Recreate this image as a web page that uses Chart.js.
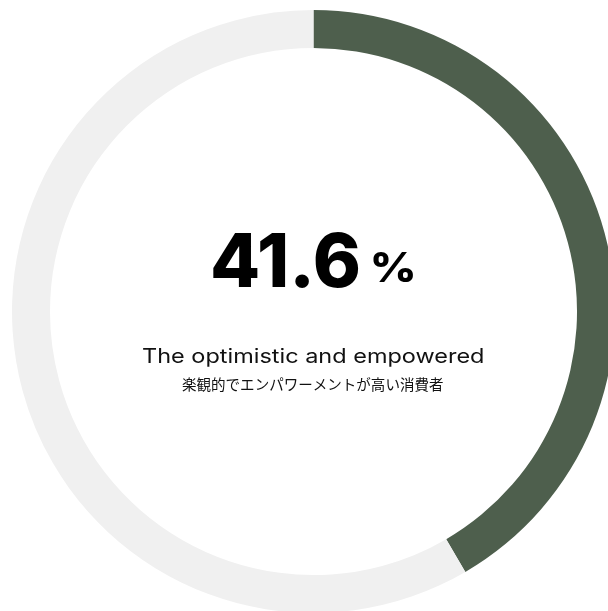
<!DOCTYPE html>
<html>
<head>
<meta charset="utf-8">
<script src="https://cdn.jsdelivr.net/npm/chart.js@4/dist/chart.umd.min.js"></script>
<style>
  html, body { margin: 0; padding: 0; width: 608px; height: 611px; overflow: hidden; background: #ffffff; }
  #wrap { position: absolute; left: 12px; top: 10px; width: 603px; height: 603px; }
</style>
</head>
<body>
<div id="wrap"><canvas id="c" width="603" height="603"></canvas></div>
<script>
// Share of consumers in the segment vs. everyone else
const segments = ['The optimistic and empowered', 'Other'];
const shares = [41.6, 58.4];
const segmentColors = ['#4e5f4d', '#f0f0f0'];

const headline = shares[0].toFixed(1);
const titleEn = 'The optimistic and empowered';
const titleJa = '楽観的でエンパワーメントが高い消費者';

// Offset of the canvas inside the page, used to place the centre texts
const OX = 12, OY = 10;

// Draw text so that its ink starts at x and spans the given width
function drawFitted(ctx, text, font, x, y, targetWidth, baseline) {
  ctx.font = font;
  ctx.textBaseline = baseline;
  ctx.textAlign = 'left';
  const m = ctx.measureText(text);
  const inkLeft = -m.actualBoundingBoxLeft;
  const ink = m.actualBoundingBoxRight + m.actualBoundingBoxLeft;
  const sx = targetWidth / ink;
  ctx.save();
  ctx.translate(x, y);
  ctx.scale(sx, 1);
  ctx.fillText(text, -inkLeft, 0);
  ctx.restore();
}

const centerText = {
  id: 'centerText',
  afterDraw(chart) {
    const ctx = chart.ctx;
    ctx.save();
    ctx.fillStyle = '#000000';
    drawFitted(ctx, headline, '800 74px Inter', 213 - OX, 287 - OY, 145, 'alphabetic');
    drawFitted(ctx, '%', '800 41px Inter', 373 - OX, 282 - OY, 40, 'alphabetic');
    ctx.fillStyle = '#111111';
    drawFitted(ctx, titleEn, '400 20px Inter', 142 - OX, 363 - OY, 341, 'alphabetic');
    drawFitted(ctx, titleJa, '400 14.5px "Noto Sans CJK JP"', 182 - OX, 384 - OY, 261, 'middle');
    ctx.restore();
  }
};

new Chart(document.getElementById('c'), {
  type: 'doughnut',
  data: {
    labels: segments,
    datasets: [{
      data: shares,
      backgroundColor: segmentColors,
      borderWidth: 0,
      hoverOffset: 0
    }]
  },
  options: {
    responsive: false,
    animation: false,
    cutout: '87.4%',
    layout: { padding: 0 },
    plugins: {
      legend: { display: false },
      tooltip: { enabled: false }
    },
    events: []
  },
  plugins: [centerText]
});
</script>
</body>
</html>
